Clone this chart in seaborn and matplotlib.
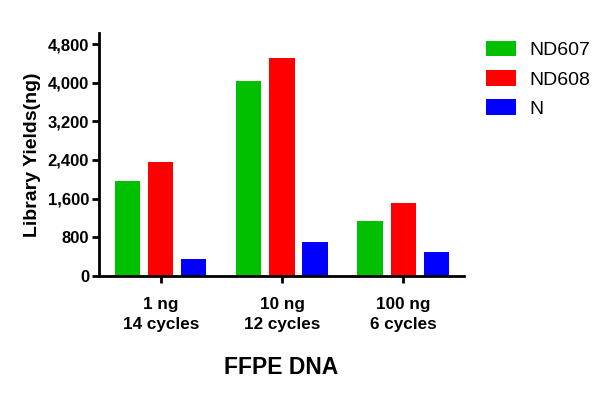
"""
FFPE DNA library yield grouped bar chart
"""
import pandas as pd
import matplotlib.pyplot as plt
import matplotlib.ticker as mticker
import seaborn as sns

# data
conditions = ['1 ng\n14 cycles', '10 ng\n12 cycles', '100 ng\n6 cycles']
kits = ['ND607', 'ND608', 'N']
nd607 = [1960, 4040, 1140]
nd608 = [2350, 4510, 1500]
n_kit = [345, 710, 505]
colors = ['#00c000', '#ff0000', '#0000ff']

sns.set_style('ticks', {'axes.edgecolor': 'black', 'text.color': 'black',
                        'xtick.color': 'black', 'ytick.color': 'black',
                        'axes.labelcolor': 'black'})
plt.rcParams['font.family'] = ['Liberation Sans', 'DejaVu Sans']

df = pd.DataFrame({
    'cond': conditions * 3,
    'kit': [k for k in kits for _ in conditions],
    'yield': nd607 + nd608 + n_kit,
})

fig = plt.figure(figsize=(6.07, 3.97), dpi=100)
ax = fig.add_axes([0.163, 0.305, 0.601, 0.612])

sns.barplot(data=df, x='cond', y='yield', hue='kit', order=conditions,
            hue_order=kits, palette=colors, width=0.82, gap=0.24,
            saturation=1, edgecolor='none', ax=ax, errorbar=None)

ax.set_xlim(-0.51, 2.5)
ax.set_ylim(0, 5030)
ax.set_yticks(range(0, 4801, 800))
ax.yaxis.set_major_formatter(mticker.StrMethodFormatter('{x:,.0f}'))

for sp in ['top', 'right']:
    ax.spines[sp].set_visible(False)
for sp in ['left', 'bottom']:
    ax.spines[sp].set_linewidth(2)
ax.tick_params(axis='both', width=2, length=5, labelsize=12, pad=2)
ax.tick_params(axis='x', labelsize=12.3, pad=10)
for lab in ax.get_xticklabels() + ax.get_yticklabels():
    lab.set_fontweight('bold')
for lab in ax.get_xticklabels():
    lab.set_linespacing(1.45)

ax.set_ylabel('Library Yields(ng)', fontsize=14, fontweight='bold', labelpad=5)
ax.set_xlabel('FFPE DNA', fontsize=16.5, fontweight='bold', labelpad=17)

ax.legend(loc='upper left', bbox_to_anchor=(1.04, 1.0), frameon=False,
          fontsize=14, handlelength=1.55, handleheight=0.86,
          labelspacing=0.55, handletextpad=0.67, borderaxespad=0)

plt.savefig('out.png', dpi=100)
